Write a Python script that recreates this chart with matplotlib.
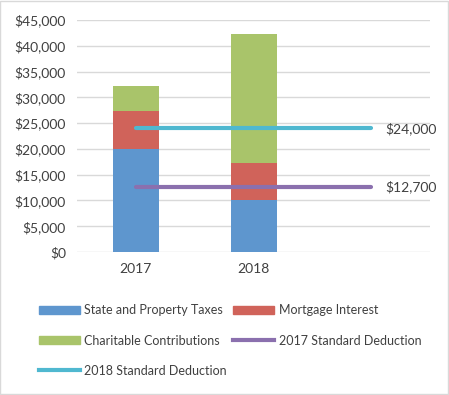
import matplotlib
matplotlib.use("Agg")
import matplotlib.pyplot as plt
from matplotlib.patches import Patch
from matplotlib.lines import Line2D
import numpy as np

years = ["2017", "2018", ""]
taxes = [20000, 10000, 0]
mortgage = [7300, 7300, 0]
charity = [5000, 25000, 0]
sd_2017 = [12700, 12700, 12700]
sd_2018 = [24000, 24000, 24000]

BLUE, RED, GREEN = "#5e96ce", "#d0635a", "#a9c46a"
PURPLE, CYAN = "#8b70ae", "#4fb8d0"
TXT = "#404040"

plt.rcParams.update({"font.family": ["Lato", "DejaVu Sans"], "font.size": 10})
fig = plt.figure(figsize=(4.49, 3.95), dpi=100)
ax = fig.add_axes([0.1715, 0.362, 0.7865, 0.587])

x = np.arange(len(years))
nb = 2  # only the first two categories carry bars
w = 0.39
ax.bar(x[:nb], taxes[:nb], w, color=BLUE, zorder=2)
ax.bar(x[:nb], mortgage[:nb], w, bottom=taxes[:nb], color=RED, zorder=2)
bot = np.array(taxes[:nb]) + np.array(mortgage[:nb])
ax.bar(x[:nb], charity[:nb], w, bottom=bot, color=GREEN, zorder=2)

ax.plot(x, sd_2017, color=PURPLE, lw=3, zorder=3, solid_capstyle="round")
ax.plot(x, sd_2018, color=CYAN, lw=3, zorder=3, solid_capstyle="round")
ax.annotate(f"${sd_2018[-1]:,}", xy=(x[-1], sd_2018[-1]), xytext=(10, 0),
            textcoords="offset points", va="center", ha="left", color=TXT)
ax.annotate(f"${sd_2017[-1]:,}", xy=(x[-1], sd_2017[-1]), xytext=(10, 0),
            textcoords="offset points", va="center", ha="left", color=TXT)

ax.set_xlim(-0.5, len(years) - 0.5)
ax.set_ylim(0, 45000)
ticks = range(0, 45001, 5000)
ax.set_yticks(ticks)
ax.set_yticklabels([f"${t:,}" for t in ticks], color=TXT)
ax.set_xticks(x)
ax.set_xticklabels(years, color=TXT)
ax.tick_params(length=0, pad=8)
ax.grid(True, axis="y", color="#d9d9d9", lw=1)
ax.set_axisbelow(True)
for s in ax.spines.values():
    s.set_visible(False)

handles = [Patch(color=BLUE), Patch(color=GREEN), Line2D([], [], color=CYAN, lw=3),
           Patch(color=RED), Line2D([], [], color=PURPLE, lw=3)]
labels = ["State and Property Taxes", "Charitable Contributions", "2018 Standard Deduction",
          "Mortgage Interest", "2017 Standard Deduction"]
fig.legend(handles, labels, loc="upper left", bbox_to_anchor=(0.075, 0.242), ncol=2,
           frameon=False, fontsize=9, handlelength=3.3, handleheight=0.6, handletextpad=0.35,
           columnspacing=0.5, labelspacing=1.45, labelcolor=TXT, borderaxespad=0)

fig.patches.append(plt.Rectangle((0.001, 0.003), 0.997, 0.995, transform=fig.transFigure,
                                 fill=False, edgecolor="#d9d9d9", lw=1))
fig.savefig("out.png", dpi=100, facecolor="white")
